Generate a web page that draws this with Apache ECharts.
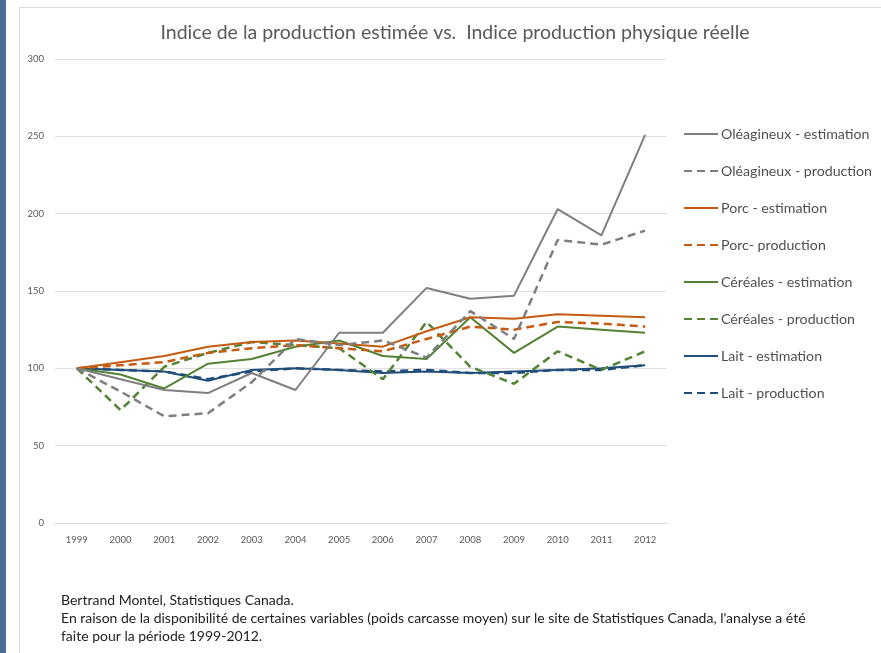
<!DOCTYPE html>
<html><head><meta charset="utf-8">
<script src="https://cdn.jsdelivr.net/npm/echarts@6/dist/echarts.min.js"></script>
<style>html,body{margin:0;padding:0;background:#fff}#c{width:881px;height:653px}</style>
</head><body><div id="c"></div>
<script>
const years = ['1999','2000','2001','2002','2003','2004','2005','2006','2007','2008','2009','2010','2011','2012'];
const oleaEst  = [100, 93, 86, 84, 97, 86, 123, 123, 152, 145, 147, 203, 186, 251];
const oleaProd = [100, 85, 69, 71, 91, 119, 115, 118, 107, 137, 119, 183, 180, 189];
const porcEst  = [100, 104, 108, 114, 117, 118, 116, 114, 124, 133, 132, 135, 134, 133];
const porcProd = [100, 102, 104, 110, 113, 115, 113, 111, 119, 127, 125, 130, 129, 127];
const cerEst   = [100, 96, 87, 103, 106, 114, 118, 108, 106, 133, 110, 127, 125, 123];
const cerProd  = [100, 73, 101, 110, 117, 115, 113, 93, 130, 101, 90, 111, 99, 111];
const laitEst  = [100, 99, 98, 92, 99, 100, 99, 97, 98, 97, 98, 99, 100, 102];
const laitProd = [100, 99, 98, 93, 98, 100, 99, 98, 99, 97, 97, 99, 99, 102];
const seriesNames = ['Oléagineux - estimation','Oléagineux - production','Porc - estimation','Porc- production','Céréales - estimation','Céréales - production','Lait - estimation','Lait - production'];
const yTicks = [0, 50, 100, 150, 200, 250, 300];
const titleText = 'Indice de la production estimée vs.  Indice production physique réelle';
const noteLines = ['Bertrand Montel, Statistiques Canada.',
  "En raison de la disponibilité de certaines variables (poids carcasse moyen) sur le site de Statistiques Canada, l'analyse a été",
  'faite pour la période 1999-2012.'];

const dataSets = [oleaEst, oleaProd, porcEst, porcProd, cerEst, cerProd, laitEst, laitProd];
const colors = ['#7f7f7f','#7f7f7f','#c55a11','#c55a11','#548235','#548235','#1f4e79','#1f4e79'];
const FONT = 'Lato, "Open Sans", sans-serif';

const chart = echarts.init(document.getElementById('c'), null, {renderer:'canvas'});
chart.setOption({
  animation:false,
  backgroundColor:'#fff',
  title:{text:titleText, left:450, top:18, textAlign:'center',
    textStyle:{fontFamily:FONT, fontSize:19.5, fontWeight:'normal', color:'#595959'}},
  grid:{left:55, right:214, top:59, bottom:130},
  legend:{orient:'vertical', left:683, top:127, padding:0, itemWidth:34, itemHeight:10, itemGap:23,
    itemStyle:{opacity:0},
    textStyle:{fontFamily:FONT, fontSize:14.2, color:'#505050', padding:[0,0,0,-2]},
    data:seriesNames},
  xAxis:{type:'category', data:years, boundaryGap:true,
    axisLine:{lineStyle:{color:'#d9d9d9'}}, axisTick:{show:false},
    axisLabel:{fontFamily:FONT, fontSize:9.5, color:'#595959', margin:12}},
  yAxis:{type:'value', min:0, max:300, interval:50,
    axisLine:{show:false}, axisTick:{show:false},
    axisLabel:{fontFamily:FONT, fontSize:9.5, color:'#595959', margin:11,
      formatter:v=>yTicks.includes(v)?String(v):''},
    splitLine:{lineStyle:{color:'#e0e0e0'}}},
  series: seriesNames.map((n,i)=>({
    name:n, type:'line', data:dataSets[i], symbol:'none', z:10-i,
    color:colors[i],
    lineStyle:{color:colors[i], width:i%2 ? 2.5 : 2, type: i%2 ? [8,5] : 'solid'}
  })),
  graphic:[
    {type:'rect', shape:{x:0,y:0,width:6,height:653}, style:{fill:'#4a6d94'}},
    {type:'rect', shape:{x:19.5,y:7.5,width:870,height:660}, style:{fill:'none', stroke:'#d9d9d9', lineWidth:1}},
    ...noteLines.map((t,i)=>({type:'text', left:61, top:593+i*18,
      style:{text:t, fontFamily:FONT, fontSize:14, fill:'#222'}}))
  ]
});
</script></body></html>
